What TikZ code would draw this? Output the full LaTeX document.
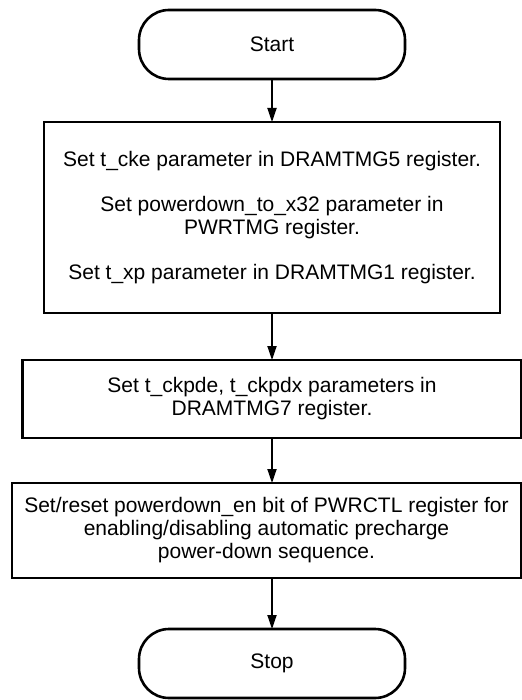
\documentclass[tikz,border=0pt]{standalone}
\usepackage{fontspec}
\setmainfont{Liberation Sans}
\usetikzlibrary{positioning,arrows.meta}

\begin{document}
\begin{tikzpicture}[
  font=\fontsize{10.5}{11.5}\selectfont,
  >={Triangle[length=7pt,width=4.6pt]},
  box/.style={
    draw=black, line width=1.3pt, align=center,
    outer sep=0pt, inner sep=3pt, fill=white
  },
  % Terminal: start / stop
  terminal/.style={box, rounded corners=15pt,
    minimum width=133pt, minimum height=34.5pt},
  % Process: one register setting step
  process/.style={box},
  flow/.style={->, line width=0.6pt}
]

\useasboundingbox (0,0) rectangle (261pt,-350pt);

% ---------- Steps ----------
\node[terminal] (start) at (136pt,-22.25pt) {Start};

\node[process, below=21.5pt of start,
      minimum width=228pt, minimum height=95.5pt] (cke) {%
  Set t\_cke parameter in DRAMTMG5 register.\\[11pt]
  Set powerdown\_to\_x32 parameter in\\
  PWRTMG register.\\[11pt]
  Set t\_xp parameter in DRAMTMG1 register.};

\node[process, below=23.5pt of cke,
      minimum width=249.5pt, minimum height=39pt] (ckpd) {%
  Set t\_ckpde, t\_ckpdx parameters in\\
  DRAMTMG7 register.};

\node[process, below=22.5pt of ckpd, xshift=-2.75pt,
      minimum width=254.5pt, minimum height=47.5pt] (pden) {%
  Set/reset powerdown\_en bit of PWRCTL register for\\
  enabling/disabling automatic precharge\\
  power-down sequence.};

\node[terminal, below=25.5pt of pden, xshift=2.75pt] (stop) {Stop};

% ---------- Connectors ----------
\draw[flow] (start) -- (cke);
\draw[flow] (cke) -- (ckpd);
\draw[flow] (ckpd) -- (ckpd |- pden.north);
\draw[flow] (stop |- pden.south) -- (stop);

\end{tikzpicture}
\end{document}
